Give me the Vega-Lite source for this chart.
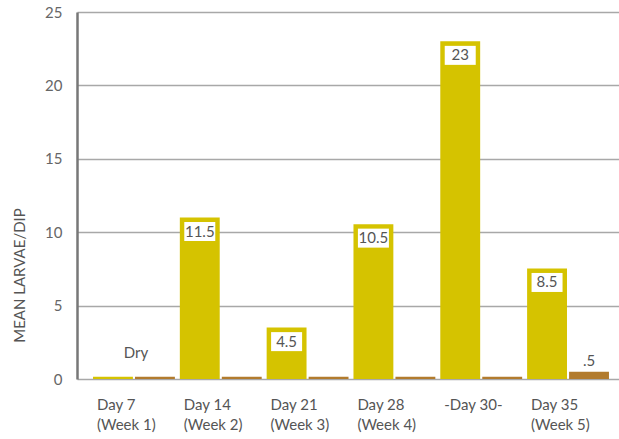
{
  "$schema": "https://vega.github.io/schema/vega-lite/v6.json",
  "width": 542,
  "height": 367,
  "autosize": {"type": "none"},
  "padding": {"left": 77, "top": 12, "right": 0, "bottom": 60},
  "config": {
    "view": {"stroke": null},
    "font": "Lato",
    "axis": {"labelFont": "Lato", "titleFont": "Lato"}
  },
  "data": {
    "values": [
      {"day": "Day 7 (Week 1)", "series": "A", "value": 0.15, "box": null, "top": null, "note": "Dry"},
      {"day": "Day 7 (Week 1)", "series": "B", "value": 0.15, "box": null, "top": null, "note": null},
      {"day": "Day 14 (Week 2)", "series": "A", "value": 11, "box": "11.5", "top": null, "note": null},
      {"day": "Day 14 (Week 2)", "series": "B", "value": 0.15, "box": null, "top": null, "note": null},
      {"day": "Day 21 (Week 3)", "series": "A", "value": 3.5, "box": "4.5", "top": null, "note": null},
      {"day": "Day 21 (Week 3)", "series": "B", "value": 0.15, "box": null, "top": null, "note": null},
      {"day": "Day 28 (Week 4)", "series": "A", "value": 10.55, "box": "10.5", "top": null, "note": null},
      {"day": "Day 28 (Week 4)", "series": "B", "value": 0.15, "box": null, "top": null, "note": null},
      {"day": "-Day 30-", "series": "A", "value": 23, "box": "23", "top": null, "note": null},
      {"day": "-Day 30-", "series": "B", "value": 0.15, "box": null, "top": null, "note": null},
      {"day": "Day 35 (Week 5)", "series": "A", "value": 7.53, "box": "8.5", "top": null, "note": null},
      {"day": "Day 35 (Week 5)", "series": "B", "value": 0.5, "box": null, "top": ".5", "note": null}
    ]
  },
  "encoding": {
    "x": {
      "field": "day",
      "type": "nominal",
      "sort": null,
      "scale": {"paddingInner": 0.057, "paddingOuter": 0.15, "align": 0.615},
      "axis": {
        "title": null,
        "domain": false,
        "ticks": false,
        "labelAngle": 0,
        "labelAlign": "left",
        "labelBaseline": "top",
        "labelOffset": -37,
        "labelPadding": 18,
        "labelFontSize": 15,
        "labelLineHeight": 20,
        "labelColor": "#555555",
        "labelExpr": "indexof(datum.label, ' (') < 0 ? datum.label : [substring(datum.label, 0, indexof(datum.label, ' (')), substring(datum.label, indexof(datum.label, ' (') + 1)]"
      }
    }
  },
  "layer": [
    {
      "mark": {"type": "bar"},
      "encoding": {
        "xOffset": {"field": "series", "type": "nominal", "scale": {"paddingInner": 0.05, "domain": ["A", "B"]}},
        "y": {
          "field": "value",
          "type": "quantitative",
          "scale": {"domain": [0, 25], "nice": false},
          "axis": {
            "title": "MEAN LARVAE/DIP",
            "values": [0, 5, 10, 15, 20, 25],
            "grid": true,
            "gridColor": "#a8a8a8",
            "gridWidth": 1.5,
            "domainColor": "#777777",
            "domainWidth": 2.5,
            "ticks": false,
            "labelFontSize": 15,
            "labelColor": "#666666",
            "labelPadding": 15,
            "titleFontSize": 15,
            "titleFontWeight": "normal",
            "titleColor": "#555555",
            "titleX": -58,
            "titleY": 263,
            "titleAngle": -90,
            "titleAlign": "center",
            "titleBaseline": "middle"
          }
        },
        "color": {
          "field": "series",
          "type": "nominal",
          "scale": {"domain": ["A", "B"], "range": ["#d5c300", "#b27b2d"]},
          "legend": null
        }
      }
    },
    {
      "mark": {"type": "rule", "color": "#808080", "strokeWidth": 3},
      "encoding": {"y": {"datum": 0, "type": "quantitative"}}
    },
    {
      "transform": [{"filter": "datum.box != null"}],
      "mark": {"type": "point", "shape": "M-1,-0.613H1V0.613H-1Z", "filled": true, "color": "#ffffff", "opacity": 1, "size": 961, "yOffset": 14},
      "encoding": {
        "xOffset": {"field": "series", "type": "nominal", "scale": {"paddingInner": 0.05, "domain": ["A", "B"]}},
        "y": {"field": "value", "type": "quantitative"}
      }
    },
    {
      "transform": [{"filter": "datum.box != null"}],
      "mark": {"type": "text", "fontSize": 15, "color": "#555555", "baseline": "middle", "align": "center", "dy": 14},
      "encoding": {
        "xOffset": {"field": "series", "type": "nominal", "scale": {"paddingInner": 0.05, "domain": ["A", "B"]}},
        "y": {"field": "value", "type": "quantitative"},
        "text": {"field": "box"}
      }
    },
    {
      "transform": [{"filter": "datum.top != null"}],
      "mark": {"type": "text", "fontSize": 15, "color": "#555555", "baseline": "bottom", "align": "center", "dy": -3},
      "encoding": {
        "xOffset": {"field": "series", "type": "nominal", "scale": {"paddingInner": 0.05, "domain": ["A", "B"]}},
        "y": {"field": "value", "type": "quantitative"},
        "text": {"field": "top"}
      }
    },
    {
      "transform": [{"filter": "datum.note != null"}],
      "mark": {"type": "text", "fontSize": 15, "color": "#555555", "baseline": "middle", "align": "center", "dy": -26, "dx": 2},
      "encoding": {
        "y": {"datum": 0, "type": "quantitative"},
        "text": {"field": "note"}
      }
    }
  ]
}
